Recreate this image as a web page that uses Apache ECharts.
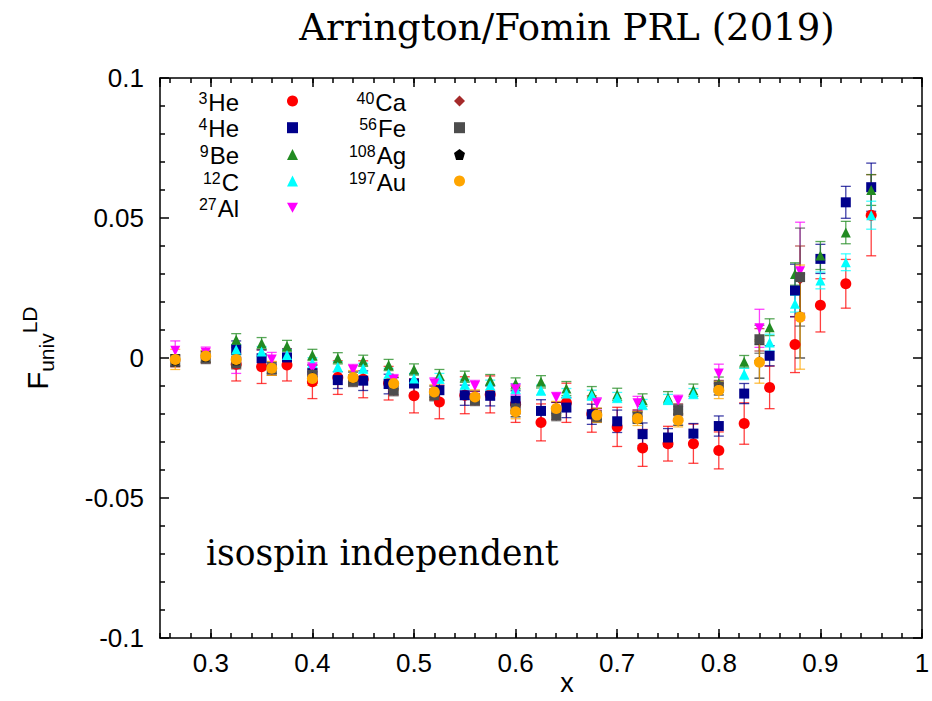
<!DOCTYPE html>
<html>
<head>
<meta charset="utf-8">
<script src="https://cdn.jsdelivr.net/npm/echarts@6/dist/echarts.min.js"></script>
<style>html,body{margin:0;padding:0;background:#fff}#c{width:932px;height:701px}</style>
</head>
<body>
<div id="c"></div>
<script>
// ---- data ----
const xJLab = [0.325,0.35,0.375,0.40,0.425,0.45,0.475,0.50,0.525,0.55,0.575,0.60,0.625,0.65,0.675,0.70,0.725,0.75,0.775,0.80,0.825,0.85,0.875,0.90,0.925,0.95];
const he3 = [-0.0022,-0.0031,-0.0025,-0.0085,-0.0070,-0.0076,-0.0090,-0.0135,-0.0157,-0.0133,-0.0130,-0.0165,-0.0230,-0.0160,-0.0200,-0.0246,-0.0321,-0.0306,-0.0306,-0.0330,-0.0234,-0.0105,0.0048,0.0188,0.0265,0.0510];
const he3Err = [0.0060,0.0060,0.0057,0.0060,0.0060,0.0066,0.0060,0.0061,0.0060,0.0066,0.0066,0.0065,0.0066,0.0070,0.0065,0.0070,0.0066,0.0062,0.0070,0.0066,0.0074,0.0076,0.0100,0.0095,0.0087,0.0145];
const he4 = [0.0031,-0.0001,0.0002,-0.0055,-0.0079,-0.0081,-0.0093,-0.0091,-0.0115,-0.0133,-0.0135,-0.0153,-0.0189,-0.0177,-0.0201,-0.0226,-0.0272,-0.0284,-0.0270,-0.0243,-0.0127,0.0008,0.0241,0.0354,0.0556,0.0610];
const he4Err = [0.0030,0.0030,0.0030,0.0030,0.0030,0.0035,0.0035,0.0035,0.0035,0.0036,0.0036,0.0036,0.0040,0.0036,0.0036,0.0040,0.0040,0.0032,0.0036,0.0036,0.0036,0.0036,0.0094,0.0052,0.0057,0.0086];
const be9 = [0.0065,0.0053,0.0043,0.0011,-0.0001,-0.0010,-0.0025,-0.0041,-0.0061,-0.0067,-0.0079,-0.0091,-0.0085,-0.0109,-0.0124,-0.0130,-0.0150,-0.0142,-0.0115,-0.0090,-0.0013,0.0110,0.0300,0.0366,0.0448,0.0600];
const be9Err = [0.0022,0.0020,0.0020,0.0020,0.0020,0.0020,0.0020,0.0020,0.0020,0.0020,0.0020,0.0020,0.0022,0.0025,0.0022,0.0022,0.0022,0.0022,0.0022,0.0022,0.0022,0.0030,0.0040,0.0050,0.0040,0.0055];
const c12 = [0.0030,0.0023,0.0011,-0.0017,-0.0031,-0.0037,-0.0055,-0.0073,-0.0073,-0.0094,-0.0097,-0.0110,-0.0115,-0.0127,-0.0133,-0.0141,-0.0166,-0.0148,-0.0127,-0.0103,-0.0057,0.0055,0.0194,0.0277,0.0342,0.0510];
const c12Err = [0.0018,0.0018,0.0018,0.0018,0.0018,0.0018,0.0018,0.0018,0.0018,0.0018,0.0018,0.0018,0.0018,0.0018,0.0018,0.0018,0.0018,0.0018,0.0018,0.0020,0.0020,0.0030,0.0030,0.0030,0.0030,0.0050];

const xSLAC = [0.265,0.295,0.325,0.36,0.40,0.44,0.48,0.52,0.56,0.60,0.64,0.68,0.72,0.76,0.80,0.84,0.88];
const al27 = [0.0026,0.0019,-0.0020,-0.0005,-0.0037,-0.0043,-0.0079,-0.0091,-0.0100,-0.0112,-0.0141,-0.0162,-0.0162,-0.0153,-0.0055,0.0106,0.0310];
const al27Err = [0.0035,0.0020,0.0035,0.0025,0.0020,0.0020,0.0020,0.0020,0.0020,0.0020,0.0018,0.0020,0.0025,0.0020,0.0033,0.0068,0.0175];
const ca40 = [-0.0012,0.0002,-0.0015,-0.0042,-0.0058,-0.0080,-0.0112,-0.0130,-0.0148,-0.0178,-0.0200,-0.0208,-0.0205,-0.0184,-0.0100,0.0065,0.0280];
const ca40Err = [0.0020,0.0020,0.0020,0.0020,0.0020,0.0020,0.0020,0.0020,0.0020,0.0020,0.0020,0.0020,0.0020,0.0020,0.0020,0.0040,0.0120];
const fe56 = [-0.0010,0.0000,-0.0019,-0.0040,-0.0060,-0.0082,-0.0115,-0.0133,-0.0150,-0.0180,-0.0204,-0.0210,-0.0210,-0.0186,-0.0103,0.0067,0.0289];
const fe56Err = [0.0020,0.0020,0.0020,0.0020,0.0020,0.0020,0.0020,0.0020,0.0020,0.0020,0.0020,0.0020,0.0020,0.0020,0.0020,0.0050,0.0175];
const ag108 = [-0.0008,0.0005,-0.0008,-0.0035,-0.0070,-0.0070,-0.0090,-0.0120,-0.0138,-0.0190,-0.0178,-0.0200,-0.0213,-0.0220,-0.0112,-0.0012,0.0150];
const ag108Err = [0.0020,0.0020,0.0020,0.0020,0.0020,0.0020,0.0020,0.0020,0.0020,0.0020,0.0020,0.0020,0.0020,0.0020,0.0020,0.0060,0.0150];
const au197 = [-0.0005,0.0007,-0.0005,-0.0037,-0.0073,-0.0070,-0.0091,-0.0121,-0.0139,-0.0192,-0.0180,-0.0204,-0.0216,-0.0222,-0.0115,-0.0015,0.0146];
const au197Err = [0.0036,0.0020,0.0025,0.0025,0.0025,0.0025,0.0025,0.0025,0.0025,0.0025,0.0025,0.0025,0.0025,0.0024,0.0030,0.0075,0.0186];

const seriesNames = ['3He','4He','9Be','12C','27Al','40Ca','56Fe','108Ag','197Au'];
const massNumbers = ['3','4','9','12','27','40','56','108','197'];
const elements = ['He','He','Be','C','Al','Ca','Fe','Ag','Au'];

const titleText = 'Arrington/Fomin PRL (2019)';
const noteText = 'isospin independent';

// ---- styling ----
const SANS = "'Liberation Sans',Arial,sans-serif";
const SERIF = "'DejaVu Serif',serif";
const colors = ['#ff0000','#00008b','#228b22','#00ffff','#ff00ff','#a52a2a','#4d4d4d','#000000','#ffa500'];
const INV_TRI = 'path://M0,0 L10,0 L5,9 Z';
const PENTA = 'path://M5,0 L10,3.8 L8.1,10 L1.9,10 L0,3.8 Z';
const symbols = ['circle','rect','triangle','triangle',INV_TRI,'diamond','rect',PENTA,'circle'];
const sizes = [11,10,10,10,10,10,10,10,11];

const sets = [
  [xJLab, he3, he3Err], [xJLab, he4, he4Err], [xJLab, be9, be9Err], [xJLab, c12, c12Err],
  [xSLAC, al27, al27Err], [xSLAC, ca40, ca40Err], [xSLAC, fe56, fe56Err], [xSLAC, ag108, ag108Err], [xSLAC, au197, au197Err]
];

function errRender(color) {
  return function (params, api) {
    const x = api.value(0), lo = api.value(1), hi = api.value(2);
    const p1 = api.coord([x, lo]), p2 = api.coord([x, hi]);
    const w = 5;
    const st = { stroke: color, lineWidth: 1.3, opacity: 0.75 };
    return { type: 'group', children: [
      { type: 'line', shape: { x1: p1[0], y1: p1[1], x2: p2[0], y2: p2[1] }, style: st },
      { type: 'line', shape: { x1: p1[0]-w, y1: p1[1], x2: p1[0]+w, y2: p1[1] }, style: st },
      { type: 'line', shape: { x1: p2[0]-w, y1: p2[1], x2: p2[0]+w, y2: p2[1] }, style: st }
    ]};
  };
}

const series = [];
sets.forEach(function (s, k) {
  const xs = s[0], ys = s[1], es = s[2];
  series.push({
    name: seriesNames[k] + ' error', type: 'custom', renderItem: errRender(colors[k]),
    encode: { x: 0, y: [1, 2] }, silent: true,
    data: xs.map(function (x, i) { return [x, ys[i] - es[i], ys[i] + es[i]]; })
  });
  series.push({
    name: seriesNames[k], type: 'scatter', symbol: symbols[k], symbolSize: sizes[k],
    itemStyle: { color: colors[k], opacity: 1 },
    data: xs.map(function (x, i) { return [x, ys[i]]; })
  });
});

const legendRich = {
  sup: { fontFamily: SANS, fontSize: 16, lineHeight: 16, color: '#000', padding: [0, 1, 6, 0] },
  el: { fontFamily: SANS, fontSize: 24, lineHeight: 26, color: '#000', padding: [2, 0, 0, 0] },
  gap: { width: 43 }
};
function legendFmt(name) {
  const k = seriesNames.indexOf(name);
  return '{sup|' + massNumbers[k] + '}{el|' + elements[k] + '}{gap| }';
}
function makeLegend(names, right) {
  return {
    data: names, orient: 'vertical', align: 'right', right: right, top: 88, padding: 0,
    itemGap: 0.7, itemWidth: 11, itemHeight: 11, selectedMode: false,
    formatter: legendFmt, textStyle: { rich: legendRich, fontFamily: SANS, fontSize: 24, color: '#000' }
  };
}

const axisLabelStyle = { fontFamily: SANS, fontSize: 26, color: '#000' };
const lineStyle = { color: '#000', width: 1.5 };

const chart = echarts.init(document.getElementById('c'), null, { renderer: 'svg' });
chart.setOption({
  animation: false,
  backgroundColor: '#fff',
  title: {
    text: titleText, left: 567, top: 9, textAlign: 'center', padding: 0,
    textStyle: { fontFamily: SERIF, fontSize: 37, fontWeight: 'normal', color: '#000' }
  },
  legend: [
    makeLegend(seriesNames.slice(0, 5), 634),
    makeLegend(seriesNames.slice(5), 467)
  ],
  grid: { left: 160, right: 10, top: 78, height: 560, containLabel: false, outerBoundsMode: 'none' },
  xAxis: [
    { type: 'value', position: 'bottom', min: 0.25, max: 1, splitNumber: 8, minInterval: 0.1, maxInterval: 0.1,
      name: 'x', nameLocation: 'middle', nameGap: 31, nameMoveOverlap: false,
      nameTextStyle: { fontFamily: SANS, fontSize: 27, color: '#000', padding: [0, 0, 0, 52] },
      axisLine: { show: true, onZero: false, lineStyle: lineStyle },
      axisTick: { show: true, inside: true, length: 9, lineStyle: lineStyle },
      axisLabel: { show: true, margin: 12, showMinLabel: false, ...axisLabelStyle },
      splitLine: { show: false } },
    { type: 'value', position: 'bottom', min: 0.25, max: 1, splitNumber: 38, minInterval: 0.02, maxInterval: 0.02,
      axisLine: { show: false, onZero: false },
      axisTick: { show: true, inside: true, length: 5, lineStyle: lineStyle },
      axisLabel: { show: false }, splitLine: { show: false } },
    { type: 'value', position: 'top', min: 0.25, max: 1, splitNumber: 8, minInterval: 0.1, maxInterval: 0.1,
      axisLine: { show: true, onZero: false, lineStyle: lineStyle },
      axisTick: { show: true, inside: true, length: 9, lineStyle: lineStyle },
      axisLabel: { show: false }, splitLine: { show: false } },
    { type: 'value', position: 'top', min: 0.25, max: 1, splitNumber: 38, minInterval: 0.02, maxInterval: 0.02,
      axisLine: { show: false, onZero: false },
      axisTick: { show: true, inside: true, length: 5, lineStyle: lineStyle },
      axisLabel: { show: false }, splitLine: { show: false } }
  ],
  yAxis: [
    { type: 'value', position: 'left', min: -0.1, max: 0.1, interval: 0.05,
      name: '{f|F}{sub|univ}{sup|LD}', nameLocation: 'middle', nameGap: 103, nameRotate: 90,
      nameTextStyle: { padding: [0, 0, 0, 20], rich: {
        f: { fontFamily: SANS, fontSize: 29, lineHeight: 38, color: '#000' },
        sub: { fontFamily: SANS, fontSize: 21, lineHeight: 18, verticalAlign: 'bottom', color: '#000' },
        sup: { fontFamily: SANS, fontSize: 21, lineHeight: 18, verticalAlign: 'top', color: '#000' }
      } },
      axisLine: { show: true, onZero: false, lineStyle: lineStyle },
      axisTick: { show: true, inside: true, length: 9, lineStyle: lineStyle },
      minorTick: { show: true, splitNumber: 5, length: 5, lineStyle: lineStyle },
      axisLabel: { show: true, margin: 16, ...axisLabelStyle },
      splitLine: { show: false } },
    { type: 'value', position: 'right', min: -0.1, max: 0.1, interval: 0.05,
      axisLine: { show: true, onZero: false, lineStyle: lineStyle },
      axisTick: { show: true, inside: true, length: 9, lineStyle: lineStyle },
      minorTick: { show: true, splitNumber: 5, length: 5, lineStyle: lineStyle },
      axisLabel: { show: false }, splitLine: { show: false } }
  ],
  graphic: [
    { type: 'text', left: 206, top: 535, style: { text: noteText, font: '34.5px ' + SERIF, fill: '#000' } }
  ],
  series: series
});
</script>
</body>
</html>
